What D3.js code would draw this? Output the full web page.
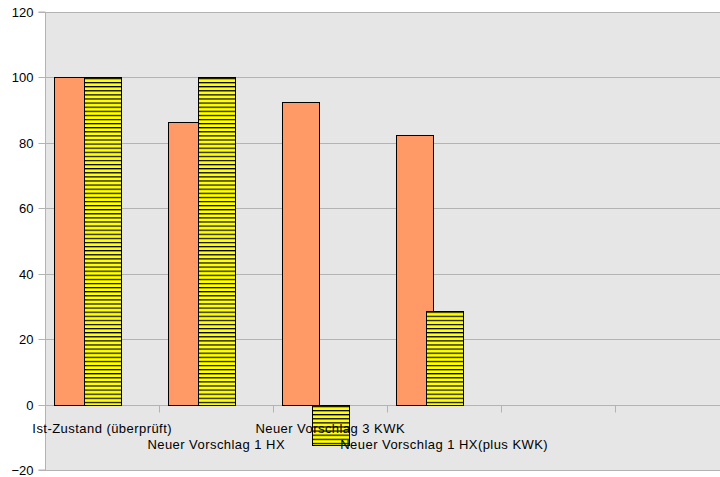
<!DOCTYPE html>
<html><head><meta charset="utf-8">
<script src="https://cdn.jsdelivr.net/npm/d3@7"></script>
<style>body{margin:0;background:#fff}svg{display:block}</style>
</head><body>
<svg id="c" width="720" height="477"></svg>
<script>
const categories = ["Ist-Zustand (überprüft)", "Neuer Vorschlag 1 HX", "Neuer Vorschlag 3 KWK", "Neuer Vorschlag 1 HX(plus KWK)", "", " "];
const seriesA = [100, 86.4, 92.5, 82.4, null, null];
const seriesB = [100, 100, -12.3, 28.5, null, null];
const yTicks = [-20, 0, 20, 40, 60, 80, 100, 120];

const svg = d3.select("#c");
const L = 45, T = 12, B = 470, R = 729;
const font = "'Liberation Sans', Arial, sans-serif";

const x = d3.scaleBand().domain(categories).range([L, R]);
const y = d3.scaleLinear().domain([-20, 120]).range([B, T]);

const defs = svg.append("defs");
const pat = defs.append("pattern").attr("id", "hatch").attr("patternUnits", "userSpaceOnUse")
  .attr("width", 8).attr("height", 4.1);
pat.append("rect").attr("width", 8).attr("height", 4.1).attr("fill", "#ffff00");
pat.append("rect").attr("y", 0).attr("width", 8).attr("height", 1.2).attr("fill", "#000");

svg.append("rect").attr("x", L).attr("y", T).attr("width", R - L).attr("height", B - T).attr("fill", "#e6e6e6");

// gridlines
svg.append("g").selectAll("line").data(yTicks).join("line")
  .attr("x1", L).attr("x2", R).attr("y1", d => Math.round(y(d)) + 0.5).attr("y2", d => Math.round(y(d)) + 0.5)
  .attr("stroke", "#b3b3b3").attr("stroke-width", 1);

// y axis
const ya = svg.append("g").attr("transform", `translate(${L + 0.5},0)`)
  .call(d3.axisLeft(y).tickValues(yTicks).tickSize(7).tickPadding(5).tickFormat(d3.format("d")));
ya.selectAll("path,line").attr("stroke", "#b3b3b3");
ya.selectAll("text").attr("font-family", font).attr("font-size", 13).attr("fill", "#000");
ya.selectAll(".tick").attr("transform", d => `translate(0,${Math.round(y(d)) + 0.5})`);
ya.select(".domain").attr("d", `M-7,${T}H0V${B}H-7`);

// x axis at zero
const y0 = Math.round(y(0)) + 0.5;
const xa = svg.append("g").attr("transform", `translate(0,${y0})`);
xa.append("line").attr("x1", L).attr("x2", R).attr("stroke", "#b3b3b3");
xa.selectAll("line.t").data(categories.slice(1)).join("line").attr("class", "t")
  .attr("x1", d => Math.round(x(d)) + 0.5).attr("x2", d => Math.round(x(d)) + 0.5)
  .attr("y1", 0).attr("y2", 7).attr("stroke", "#b3b3b3");

// bars
const bw = x.bandwidth();
const offA = 0.083, offB = 0.34, wFrac = 0.325;
const bars = svg.append("g");
categories.forEach((c, i) => {
  [[seriesA[i], offA, "#ff9966"], [seriesB[i], offB, "url(#hatch)"]].forEach(([v, off, fill]) => {
    if (v == null) return;
    const x0 = Math.round(x(c) + bw * off) + 0.5;
    const ya0 = Math.round(y(Math.max(0, v))) + 0.5;
    const ya1 = Math.round(y(Math.min(0, v))) + 0.5;
    bars.append("rect").attr("x", x0).attr("y", ya0)
      .attr("width", Math.round(bw * wFrac)).attr("height", ya1 - ya0)
      .attr("fill", fill).attr("stroke", "#000").attr("stroke-width", 1);
  });
});

// category labels (staggered)
svg.append("g").selectAll("text").data(categories).join("text")
  .attr("x", d => x(d) + bw / 2 + 0.2)
  .attr("y", (d, i) => i % 2 === 0 ? 432.5 : 449)
  .attr("text-anchor", "middle").attr("font-family", font).attr("font-size", 13)
  .attr("letter-spacing", 0.45).attr("fill", "#000")
  .text(d => d.trim());

// bottom border
svg.append("line").attr("x1", L).attr("x2", R).attr("y1", B + 0.5).attr("y2", B + 0.5).attr("stroke", "#b3b3b3");
</script>
</body></html>
